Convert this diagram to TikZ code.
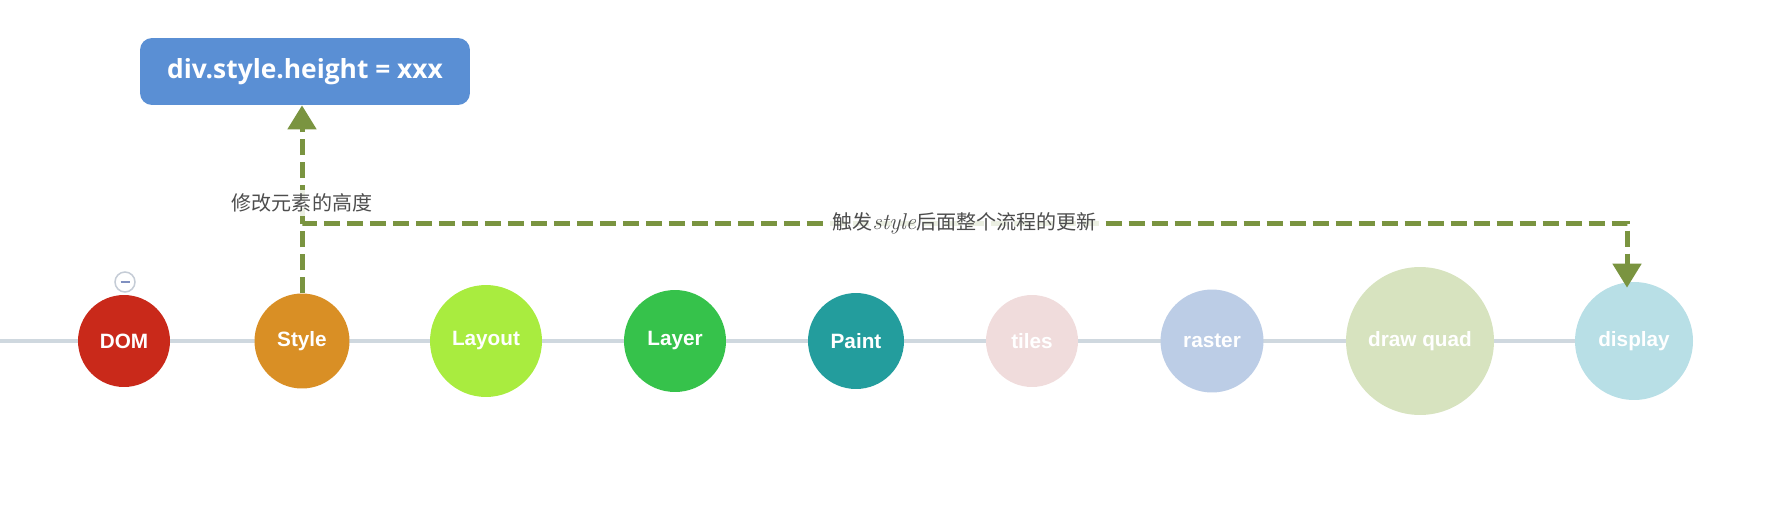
\documentclass[tikz,border=0pt]{standalone}
\usepackage{fontspec}
\setsansfont{Liberation Sans}
\newfontfamily\opensans{Open Sans}
\newfontfamily\cjk{Noto Sans CJK SC}
\usetikzlibrary{arrows.meta,backgrounds}

\definecolor{domred}{HTML}{C9291A}
\definecolor{styleorange}{HTML}{D98F25}
\definecolor{layoutgreen}{HTML}{A9EC3F}
\definecolor{layergreen}{HTML}{36C24B}
\definecolor{paintteal}{HTML}{239D9D}
\definecolor{tilespink}{HTML}{F0DCDC}
\definecolor{rasterblue}{HTML}{BCCDE6}
\definecolor{quadgreen}{HTML}{D7E3BF}
\definecolor{displaycyan}{HTML}{B8DFE6}
\definecolor{boxblue}{HTML}{5A8FD4}
\definecolor{flowgreen}{HTML}{7A9440}
\definecolor{axisgray}{HTML}{CFD8DF}
\definecolor{notegray}{HTML}{4D4D4D}
\definecolor{foldgray}{HTML}{C5CCD6}
\definecolor{foldblue}{HTML}{8090C0}

\begin{document}
\begin{tikzpicture}[x=0.02cm, y=-0.02cm,
    stage/.style={circle, inner sep=0pt, text=white,
        font=\sffamily\bfseries\fontsize{11.8}{13}\selectfont},
    flow/.style={draw=flowgreen, line width=0.1cm,
        dash pattern=on 0.32cm off 0.14cm,
        -{Triangle[width=0.56cm,length=0.48cm]}},
    note/.style={font=\cjk\fontsize{11.4}{13}\selectfont, text=notegray,
        inner sep=2pt, fill=white, fill opacity=0.85, text opacity=1}]
    \useasboundingbox (0,0) rectangle (1788,514);

    % 时间轴起点
    \coordinate (axisstart) at (0,341);

    % 1. 渲染流程各阶段
    \foreach \name/\x/\d/\col/\txt in {
        dom/124/1.84/domred/DOM,
        style/302/1.90/styleorange/Style,
        layout/486/2.24/layoutgreen/Layout,
        layer/675/2.04/layergreen/Layer,
        paint/856/1.92/paintteal/Paint,
        tiles/1032/1.84/tilespink/tiles,
        raster/1212/2.06/rasterblue/raster,
        drawquad/1420/2.96/quadgreen/draw quad,
        display/1634/2.36/displaycyan/display} {
        \node[stage, fill=\col, minimum size=\d cm] (\name) at (\x,341) {\txt};
    }

    % 时间轴 (放在圆的后面)
    \begin{scope}[on background layer]
        \draw[axisgray, line width=0.08cm] (axisstart) -- (display.west);
    \end{scope}

    % 折叠按钮
    \node[circle, draw=foldgray, fill=white, line width=0.03cm,
        minimum size=0.4cm, inner sep=0pt] (fold) at (125,282) {};
    \draw[foldblue, line width=0.04cm]
        ([xshift=-0.09cm]fold.center) -- ([xshift=0.09cm]fold.center);

    % 2. 修改样式
    \node[fill=boxblue, rounded corners=0.24cm, text=white,
        minimum width=6.6cm, minimum height=1.34cm,
        font=\opensans\bfseries\fontsize{15}{18}\selectfont]
        (setheight) at (305,71.5) {div.style.height = xxx};

    \draw[flow] (style.north) -- (style.north |- setheight.south)
        node[note, pos=0.48] {修改元素的高度};

    % 3. 触发后续流程
    \coordinate (bend) at (302,223);
    \draw[flow, shorten >=-0.12cm] (style.north) -- (bend)
        -| node[note, pos=0.25]
            {触发{\rmfamily\itshape\fontsize{13}{13}\selectfont style}后面整个流程的更新}
        ([xshift=-0.14cm]display.north);

\end{tikzpicture}
\end{document}
